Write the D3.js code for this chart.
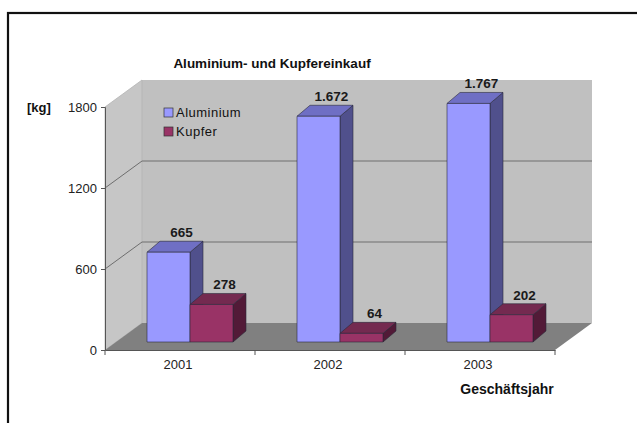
<!DOCTYPE html>
<html>
<head>
<meta charset="utf-8">
<script src="https://cdn.jsdelivr.net/npm/d3@7"></script>
<style>
  body { margin: 0; background: #fff; }
  svg { display: block; font-family: "Liberation Sans", Arial, sans-serif; }
</style>
</head>
<body>
<svg id="chart" width="637" height="423"></svg>
<script>
// data
const years = ["2001", "2002", "2003"];
const seriesNames = ["Aluminium", "Kupfer"];
const aluminium = [665, 1672, 1767];
const kupfer = [278, 64, 202];
const valueLabels = [["665", "1.672", "1.767"], ["278", "64", "202"]];
const yTicks = [0, 600, 1200, 1800];

const svg = d3.select("#chart");

// colours: front, side, top
const colors = {
  Aluminium: { front: "#9999ff", side: "#50508c", top: "#6f6fc4", legend: "#9999ff" },
  Kupfer: { front: "#993366", side: "#521a37", top: "#742a50", legend: "#993366" }
};

// outer frame
svg.append("rect")
  .attr("x", 8).attr("y", 13)
  .attr("width", 640).attr("height", 420)
  .attr("fill", "#fff")
  .attr("stroke", "#111")
  .attr("stroke-width", 2.2);

// 3d geometry
const frontLeft = 105, frontRight = 555, frontBottom = 350;
const depthX = 37, depthY = -27;
const yFront = d3.scaleLinear().domain([0, 1800]).range([frontBottom, 107]);
const yBack = v => yFront(v) + depthY;
const x0 = d3.scaleBand().domain(years).range([frontLeft, frontRight]);
const x1 = d3.scaleBand().domain(seriesNames).range([0, 86]);
const barOffX = 10, barOffY = -8;   // bars sit mid-depth
const barDX = 13, barDY = -11;

const backL = frontLeft + depthX, backR = frontRight + depthX;

// back wall
svg.append("rect")
  .attr("x", backL).attr("y", yBack(1800))
  .attr("width", backR - backL).attr("height", yBack(0) - yBack(1800))
  .attr("fill", "#c0c0c0");

// side wall
svg.append("polygon")
  .attr("points", [[frontLeft, yFront(1800)], [backL, yBack(1800)], [backL, yBack(0)], [frontLeft, yFront(0)]].join(" "))
  .attr("fill", "#c6c6c6")
  .attr("stroke", "#b4b4b4")
  .attr("stroke-width", 0.8);

// floor
svg.append("polygon")
  .attr("points", [[frontLeft, frontBottom], [backL, yBack(0)], [backR, yBack(0)], [frontRight, frontBottom]].join(" "))
  .attr("fill", "#808080");

// gridlines
yTicks.filter(d => d > 0 && d < 1800).forEach(v => {
  svg.append("line")
    .attr("x1", frontLeft).attr("y1", yFront(v))
    .attr("x2", backL).attr("y2", yBack(v))
    .attr("stroke", "#6e6e6e").attr("stroke-width", 1);
  svg.append("line")
    .attr("x1", backL).attr("y1", yBack(v))
    .attr("x2", backR).attr("y2", yBack(v))
    .attr("stroke", "#6e6e6e").attr("stroke-width", 1);
});

// bars
function drawBar(x, w, v, c) {
  const xl = x + barOffX, xr = xl + w;
  const yb = frontBottom + barOffY;
  const yt = yb - (frontBottom - yFront(v));
  const g = svg.append("g").attr("stroke", "#2a2a3a").attr("stroke-width", 0.6).attr("stroke-linejoin", "round");
  g.append("polygon")
    .attr("points", [[xr, yt], [xr + barDX, yt + barDY], [xr + barDX, yb + barDY], [xr, yb]].join(" "))
    .attr("fill", c.side);
  g.append("polygon")
    .attr("points", [[xl, yt], [xl + barDX, yt + barDY], [xr + barDX, yt + barDY], [xr, yt]].join(" "))
    .attr("fill", c.top);
  g.append("rect")
    .attr("x", xl).attr("y", yt).attr("width", w).attr("height", yb - yt)
    .attr("fill", c.front);
  return { cx: (xl + xr) / 2, yt: yt };
}

const seriesValues = [aluminium, kupfer];
years.forEach((yr, i) => {
  seriesNames.forEach((s, j) => {
    const bx = x0(yr) + x0.bandwidth() / 2 - 43 + x1(s);
    const b = drawBar(bx, x1.bandwidth(), seriesValues[j][i], colors[s]);
    svg.append("text")
      .attr("x", b.cx + 13).attr("y", b.yt - 15)
      .attr("text-anchor", "middle")
      .attr("font-size", 13.5).attr("font-weight", "bold")
      .attr("fill", "#1a1a1a")
      .text(valueLabels[j][i]);
  });
});

// y axis on the front plane
const yAxis = svg.append("g")
  .attr("transform", `translate(${frontLeft},0)`)
  .call(d3.axisLeft(yFront).tickValues(yTicks).tickSize(4).tickPadding(4).tickFormat(d3.format("d")));
yAxis.select(".domain").attr("stroke", "#555");
yAxis.selectAll(".tick line").attr("stroke", "#555");
yAxis.selectAll("text").attr("font-size", 13).attr("fill", "#222")
  .attr("font-family", "Liberation Sans, Arial, sans-serif");

// x axis on the front edge
const xAxis = svg.append("g")
  .attr("transform", `translate(0,${frontBottom})`)
  .call(d3.axisBottom(x0).tickSize(0).tickPadding(10));
xAxis.select(".domain").attr("stroke", "#555");
xAxis.selectAll("text").attr("font-size", 13).attr("fill", "#222")
  .attr("font-family", "Liberation Sans, Arial, sans-serif")
  .attr("dx", -2);
// category separators
d3.range(years.length + 1).forEach(k => {
  const xx = frontLeft + k * x0.bandwidth();
  svg.append("line")
    .attr("x1", xx).attr("x2", xx)
    .attr("y1", frontBottom).attr("y2", frontBottom + 5)
    .attr("stroke", "#555");
});

// titles
svg.append("text")
  .attr("x", 272).attr("y", 68)
  .attr("text-anchor", "middle")
  .attr("font-size", 13.5).attr("font-weight", "bold")
  .attr("fill", "#111")
  .text("Aluminium- und Kupfereinkauf");

svg.append("text")
  .attr("x", 27).attr("y", 112)
  .attr("font-size", 13).attr("font-weight", "bold")
  .attr("fill", "#111")
  .text("[kg]");

svg.append("text")
  .attr("x", 507).attr("y", 394)
  .attr("text-anchor", "middle")
  .attr("font-size", 14).attr("font-weight", "bold")
  .attr("fill", "#111")
  .text("Geschäftsjahr");

// legend
const legend = svg.append("g").attr("transform", "translate(164,108)");
seriesNames.forEach((s, j) => {
  legend.append("rect")
    .attr("x", 0).attr("y", j * 19)
    .attr("width", 9).attr("height", 9)
    .attr("fill", colors[s].legend)
    .attr("stroke", "#333").attr("stroke-width", 0.7);
  legend.append("text")
    .attr("x", 12).attr("y", j * 19 + 9)
    .attr("font-size", 13)
    .attr("letter-spacing", 0.5)
    .attr("fill", "#111")
    .text(s);
});
</script>
</body>
</html>
